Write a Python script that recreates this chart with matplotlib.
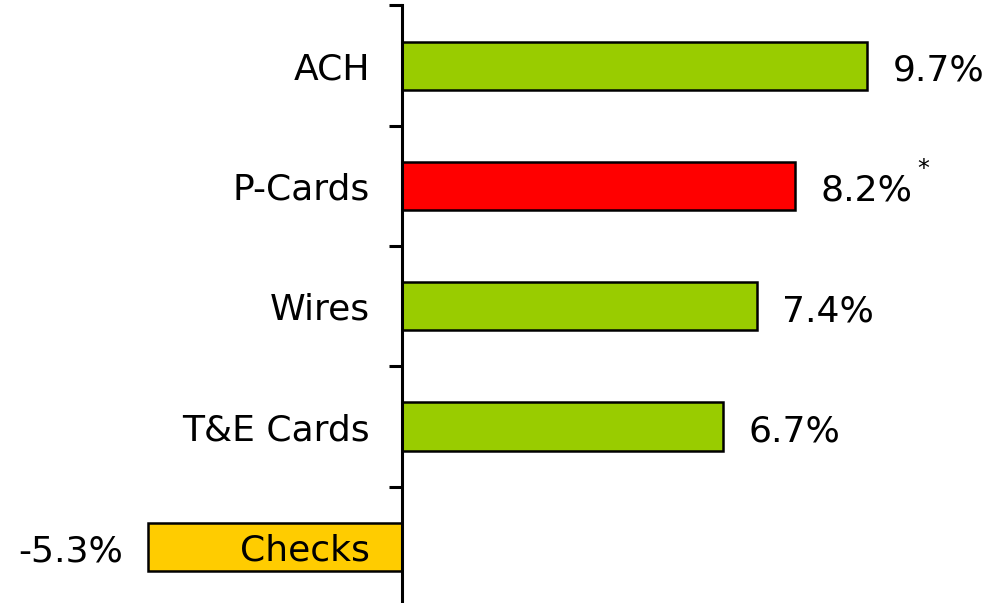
import matplotlib
matplotlib.use("Agg")
import matplotlib.pyplot as plt
import numpy as np

categories = ["ACH", "P-Cards", "Wires", "T&E Cards", "Checks"]
values = [9.7, 8.2, 7.4, 6.7, -5.3]
colors = ["#99CC00", "#FF0000", "#99CC00", "#99CC00", "#FFCC00"]
value_labels = ["9.7%", "8.2%", "7.4%", "6.7%", "-5.3%"]
footnote_marks = ["", "*", "", "", ""]

W, H = 1002, 603
fig = plt.figure(figsize=(W / 100, H / 100), dpi=100)
top_px, bot_px = 5.5, 607.0
ax = fig.add_axes([0, (H - bot_px) / H, 1, (bot_px - top_px) / H])

px_per_unit = 47.94
ax.set_xlim(-402 / px_per_unit, (W - 402) / px_per_unit)
ax.set_ylim(len(categories) - 0.5, -0.5)

y = np.arange(len(categories))
ax.barh(y, values, height=0.4, color=colors, edgecolor="black", linewidth=1.8, zorder=2)

for s in ["top", "right", "bottom"]:
    ax.spines[s].set_visible(False)
ax.spines["left"].set_position(("data", 0))
ax.spines["left"].set_linewidth(2.2)
ax.spines["left"].set_zorder(3)

ax.set_xticks([])
ax.set_yticks([])
ax.set_yticks(np.arange(-0.5, len(categories), 1.0), minor=True)
ax.tick_params(axis="y", which="minor", length=9.4, width=2.2, direction="out")

fs = 26
for i, c in enumerate(categories):
    ax.annotate(c, xy=(0, i), xytext=(-23, -2.5), textcoords="offset points",
                ha="right", va="center", fontsize=fs, zorder=5)

for i, (v, t, m) in enumerate(zip(values, value_labels, footnote_marks)):
    if v >= 0:
        ax.annotate(t, xy=(v, i), xytext=(18.5, -3.5), textcoords="offset points",
                    ha="left", va="center", fontsize=fs, zorder=5)
        if m:
            ax.annotate(m, xy=(v, i), xytext=(92, 12), textcoords="offset points",
                        ha="center", va="center", fontsize=17, zorder=5)
    else:
        ax.annotate(t, xy=(v, i), xytext=(-18, -3.5), textcoords="offset points",
                    ha="right", va="center", fontsize=fs, zorder=5)

fig.savefig("out.png", dpi=100)
